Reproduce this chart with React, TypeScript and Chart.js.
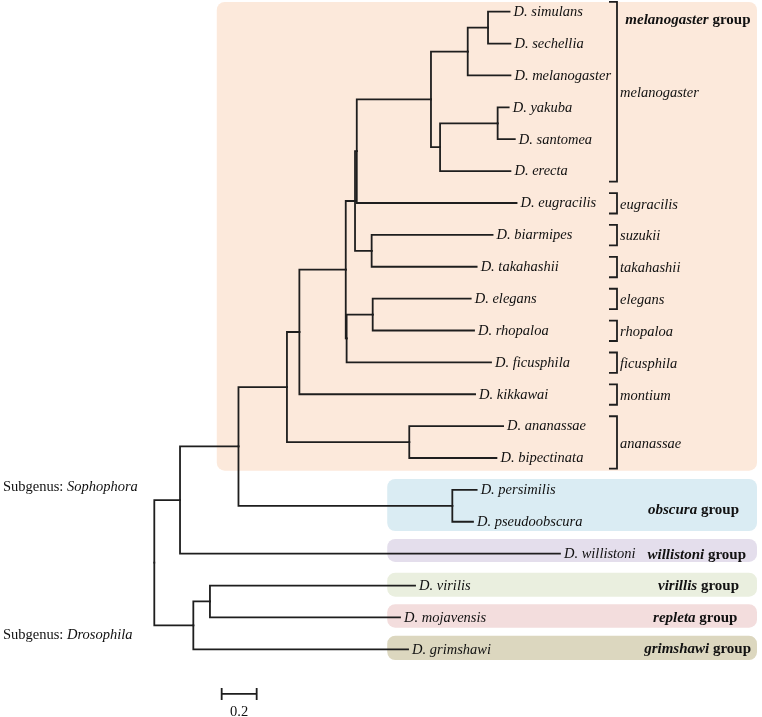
import React, { useEffect, useRef } from 'react';
import { Chart, registerables } from 'chart.js';
Chart.register(...registerables);

// ---- Tips (top to bottom) ----
const leafNames = [
  'D. simulans', 'D. sechellia', 'D. melanogaster', 'D. yakuba', 'D. santomea', 'D. erecta',
  'D. eugracilis', 'D. biarmipes', 'D. takahashii', 'D. elegans', 'D. rhopaloa', 'D. ficusphila',
  'D. kikkawai', 'D. ananassae', 'D. bipectinata', 'D. persimilis', 'D. pseudoobscura',
  'D. willistoni', 'D. virilis', 'D. mojavensis', 'D. grimshawi',
];
// distance of each tip from the root (substitutions per site)
const leafDepth = [
  2.03, 2.035, 2.035, 2.025, 2.06, 2.035,
  2.07, 1.933, 1.842, 1.808, 1.827, 1.924,
  1.833, 1.993, 1.955, 1.842, 1.821,
  2.318, 1.49, 1.404, 1.45,
];

// ---- Internal nodes ----
const nodeIds = ['root', 'sophophora', 'G', 'F', 'A', 'B', 'C', 'E', 'melSub', 'N1', 'N2', 'N3', 'N4', 'BT', 'D', 'ER', 'anan', 'obs', 'drosophila', 'K'];
const nodeDepth = [0, 0.147, 0.481, 0.758, 0.829, 1.094, 1.147, 1.157, 1.581, 1.791, 1.907, 1.633, 1.962, 1.242, 1.099, 1.248, 1.457, 1.703, 0.223, 0.318];
const nodeChildren: (string | number)[][] = [
  ['sophophora', 'drosophila'],
  ['G', 17],
  ['F', 'obs'],
  ['A', 'anan'],
  ['B', 12],
  ['C', 'D'],
  ['E', 'BT'],
  ['melSub', 6],
  ['N1', 'N3'],
  ['N2', 2],
  [0, 1],
  ['N4', 5],
  [3, 4],
  [7, 8],
  ['ER', 11],
  [9, 10],
  [13, 14],
  [15, 16],
  ['K', 20],
  [18, 19],
];

// ---- Species-group brackets ----
const bracketLabels = ['melanogaster', 'eugracilis', 'suzukii', 'takahashii', 'elegans', 'rhopaloa', 'ficusphila', 'montium', 'ananassae'];
const bracketFirst = [0, 6, 7, 8, 9, 10, 11, 12, 13];
const bracketLast = [5, 6, 7, 8, 9, 10, 11, 12, 14];
const bracketX = 2.644;

// ---- Highlighted groups ----
const groupNames = ['melanogaster', 'obscura', 'willistoni', 'virillis', 'repleta', 'grimshawi'];
const groupColors = ['#FCE9DB', '#DAECF3', '#E4DEEC', '#EAEFDF', '#F3DDDD', '#DCD7BF'];
const groupBoxStart = [0.357, 1.331, 1.331, 1.331, 1.331, 1.331];
const groupBoxEnd = 3.444;
const groupBoxTop = [-0.304, 14.658, 16.54, 17.597, 18.588, 19.574];
const groupBoxBottom = [14.398, 16.29, 17.26, 18.35, 19.322, 20.336];
// right end of each group label
const groupLabelEnd = [3.407, 3.341, 3.381, 3.341, 3.332, 3.41];
const groupLabelY = [0.26, 15.62, 17.05, 18.03, 19.02, 20.01];

// ---- Subgenus labels ----
const subgenusNames = ['Sophophora', 'Drosophila'];
const subgenusY = [14.92, 19.57];
const subgenusX = -0.865;

// ---- Scale bar ----
const scaleBarStart = 0.385;
const scaleBarLength = 0.2;
const scaleBarLabel = '0.2';
const scaleBarY = 21.4;

const FONT = '"Liberation Serif", "Times New Roman", Times, serif';
const INK = '#1e1e1e';

export default function App() {
  const ref = useRef<HTMLCanvasElement>(null);

  useEffect(() => {
    const canvas = ref.current;
    if (!canvas) return;

    const nodeY: Record<string, number> = {};
    const yOf = (c: string | number): number => {
      if (typeof c === 'number') return c;
      if (nodeY[c] !== undefined) return nodeY[c];
      const ch = nodeChildren[nodeIds.indexOf(c)];
      const ys = ch.map(yOf);
      const y = (ys[0] + ys[ys.length - 1]) / 2;
      nodeY[c] = y;
      return y;
    };
    const depthOf = (c: string | number): number =>
      typeof c === 'number' ? leafDepth[c] : nodeDepth[nodeIds.indexOf(c)];

    const datasets: any[] = [];
    nodeIds.forEach((id, i) => {
      const px = nodeDepth[i];
      const py = yOf(id);
      nodeChildren[i].forEach((c) => {
        const cy = yOf(c);
        datasets.push({
          data: [
            { x: px, y: py },
            { x: px, y: cy },
            { x: depthOf(c), y: cy },
          ],
          showLine: true,
          borderColor: INK,
          borderWidth: 1.8,
          pointRadius: 0,
          pointHoverRadius: 0,
          borderCapStyle: 'square',
          borderJoinStyle: 'miter',
          fill: false,
          tension: 0,
        });
      });
    });

    const decorations = {
      id: 'treeDecorations',
      beforeDatasetsDraw(chart: any) {
        const { ctx, scales } = chart;
        const sx = scales.x, sy = scales.y;
        ctx.save();
        groupNames.forEach((_, i) => {
          const x0 = sx.getPixelForValue(groupBoxStart[i]);
          const x1 = sx.getPixelForValue(groupBoxEnd);
          const y0 = sy.getPixelForValue(groupBoxTop[i]);
          const y1 = sy.getPixelForValue(groupBoxBottom[i]);
          ctx.fillStyle = groupColors[i];
          ctx.beginPath();
          if ((ctx as any).roundRect) (ctx as any).roundRect(x0, y0, x1 - x0, y1 - y0, 8);
          else ctx.rect(x0, y0, x1 - x0, y1 - y0);
          ctx.fill();
        });
        ctx.restore();
      },
      afterDatasetsDraw(chart: any) {
        const { ctx, scales } = chart;
        const sx = scales.x, sy = scales.y;
        ctx.save();
        ctx.fillStyle = '#111';
        ctx.strokeStyle = INK;
        ctx.textBaseline = 'middle';
        ctx.textAlign = 'left';

        // tip labels
        ctx.font = `italic 14.5px ${FONT}`;
        leafNames.forEach((name, i) => {
          ctx.fillText(name, sx.getPixelForValue(leafDepth[i]) + 4, sy.getPixelForValue(i) + 0.5);
        });

        // brackets
        ctx.lineWidth = 1.8;
        const bx = sx.getPixelForValue(bracketX);
        bracketLabels.forEach((lab, i) => {
          const yt = sy.getPixelForValue(bracketFirst[i] - 0.31);
          const yb = sy.getPixelForValue(bracketLast[i] + 0.33);
          ctx.beginPath();
          ctx.moveTo(bx - 8, yt);
          ctx.lineTo(bx, yt);
          ctx.lineTo(bx, yb);
          ctx.lineTo(bx - 8, yb);
          ctx.stroke();
          ctx.font = `italic 14.5px ${FONT}`;
          ctx.fillText(lab, bx + 3, (yt + yb) / 2 + 1.5);
        });

        // group labels (right-aligned)
        groupNames.forEach((g, i) => {
          const xe = sx.getPixelForValue(groupLabelEnd[i]);
          const y = sy.getPixelForValue(groupLabelY[i]);
          ctx.font = `bold 15px ${FONT}`;
          const w2 = ctx.measureText(' group').width;
          ctx.font = `italic bold 15px ${FONT}`;
          const w1 = ctx.measureText(g).width;
          const x = xe - w1 - w2;
          ctx.fillText(g, x, y);
          ctx.font = `bold 15px ${FONT}`;
          ctx.fillText(' group', x + w1, y);
        });

        // subgenus labels
        subgenusNames.forEach((s, i) => {
          const x = sx.getPixelForValue(subgenusX);
          const y = sy.getPixelForValue(subgenusY[i]);
          ctx.font = `14.5px ${FONT}`;
          const pre = 'Subgenus: ';
          ctx.fillText(pre, x, y);
          const w = ctx.measureText(pre).width;
          ctx.font = `italic 14.5px ${FONT}`;
          ctx.fillText(s, x + w, y);
        });

        // scale bar
        const x0 = sx.getPixelForValue(scaleBarStart);
        const x1 = sx.getPixelForValue(scaleBarStart + scaleBarLength);
        const y = sy.getPixelForValue(scaleBarY);
        ctx.lineWidth = 1.8;
        ctx.beginPath();
        ctx.moveTo(x0, y); ctx.lineTo(x1, y);
        ctx.moveTo(x0, y - 6); ctx.lineTo(x0, y + 6);
        ctx.moveTo(x1, y - 6); ctx.lineTo(x1, y + 6);
        ctx.stroke();
        ctx.font = `14.5px ${FONT}`;
        ctx.textAlign = 'center';
        ctx.fillText(scaleBarLabel, (x0 + x1) / 2, y + 18);
        ctx.restore();
      },
    };

    const chart = new Chart(canvas, {
      type: 'scatter',
      data: { datasets },
      options: {
        animation: false,
        responsive: false,
        events: [],
        layout: { padding: 0 },
        plugins: { legend: { display: false }, tooltip: { enabled: false } },
        scales: {
          x: { type: 'linear', display: false, min: -0.8817, max: 3.4726 },
          y: { type: 'linear', display: false, reverse: true, min: -0.367, max: 22.124 },
        },
      },
      plugins: [decorations],
    });
    return () => chart.destroy();
  }, []);

  return (
    <div style={{ position: 'absolute', left: 0, top: 0, width: 762, height: 717, background: '#fff' }}>
      <canvas ref={ref} width={762} height={717} style={{ display: 'block' }} />
    </div>
  );
}
